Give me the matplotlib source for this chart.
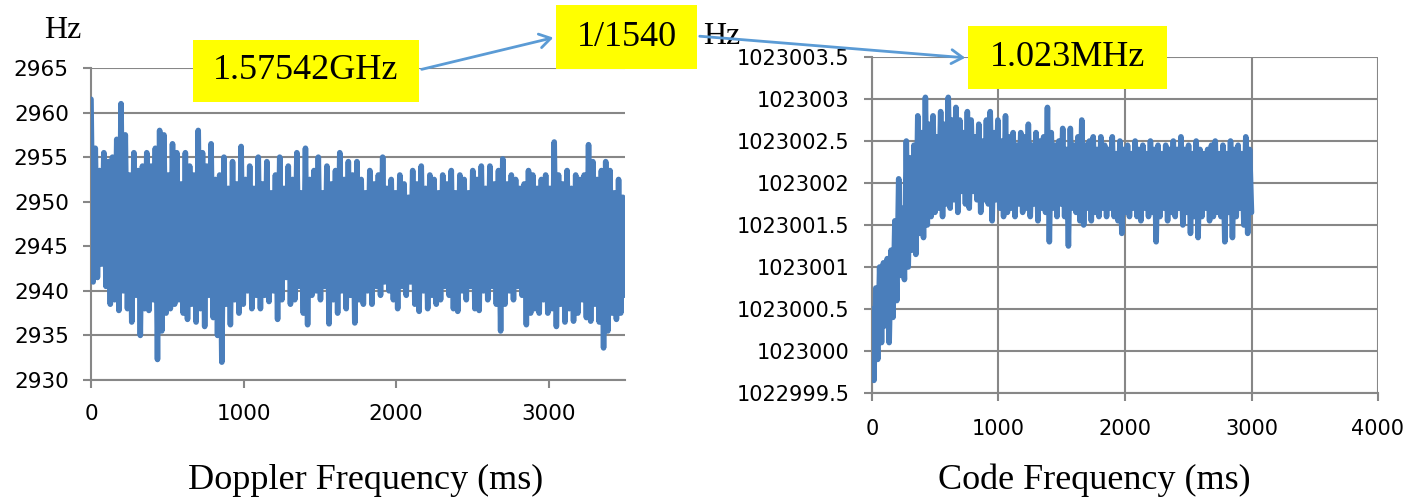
import numpy as np
import matplotlib
matplotlib.use("Agg")
import matplotlib.pyplot as plt
from matplotlib.patches import Rectangle, FancyArrowPatch

# Doppler frequency (Hz), 0..3500 ms
doppler_hz = [
    2961.5, 2941.0, 2956.0, 2941.5, 2953.5, 2943.0, 2955.5, 2940.5, 2954.5, 2938.5,
    2955.0, 2939.0, 2957.0, 2937.8, 2961.0, 2940.0, 2957.5, 2938.0, 2953.0, 2936.5,
    2955.5, 2939.5, 2953.5, 2935.0, 2954.0, 2938.0, 2955.5, 2937.8, 2954.0, 2939.0,
    2956.0, 2932.3, 2958.0, 2935.5, 2957.5, 2937.5, 2953.0, 2938.0, 2956.5, 2938.5,
    2955.5, 2939.0, 2952.0, 2937.5, 2955.5, 2936.8, 2954.0, 2938.5, 2953.0, 2936.5,
    2958.0, 2938.0, 2955.5, 2936.0, 2954.0, 2939.5, 2956.5, 2937.0, 2952.5, 2935.0,
    2953.0, 2932.0, 2955.0, 2938.5, 2951.5, 2936.2, 2954.5, 2939.0, 2952.0, 2937.5,
    2956.2, 2938.5, 2952.5, 2940.0, 2954.0, 2938.0, 2951.5, 2939.5, 2955.0, 2938.0,
    2952.0, 2939.5, 2954.5, 2938.8, 2951.0, 2940.0, 2953.0, 2936.8, 2955.0, 2939.0,
    2951.5, 2941.5, 2954.0, 2938.5, 2952.5, 2939.0, 2955.5, 2940.5, 2951.0, 2937.5,
    2956.0, 2936.2, 2952.5, 2939.5, 2953.5, 2940.0, 2955.0, 2939.0, 2951.0, 2940.5,
    2954.0, 2936.3, 2952.0, 2939.0, 2953.5, 2937.5, 2955.5, 2940.0, 2952.5, 2938.0,
    2954.5, 2939.5, 2953.0, 2936.4, 2954.5, 2939.0, 2952.5, 2938.5, 2951.0, 2940.0,
    2953.5, 2938.5, 2952.0, 2940.5, 2953.0, 2939.5, 2955.0, 2941.0, 2951.5, 2940.0,
    2952.5, 2939.0, 2951.0, 2938.0, 2953.0, 2940.5, 2952.0, 2939.5, 2950.5, 2941.0,
    2953.5, 2938.5, 2952.0, 2937.7, 2954.0, 2940.0, 2951.5, 2938.0, 2953.0, 2939.5,
    2952.5, 2938.5, 2951.0, 2939.0, 2953.0, 2940.5, 2952.0, 2939.5, 2953.5, 2938.0,
    2951.0, 2937.7, 2953.0, 2940.0, 2952.5, 2939.0, 2951.0, 2940.5, 2953.5, 2938.0,
    2952.5, 2937.8, 2954.0, 2940.0, 2951.5, 2939.0, 2954.0, 2940.5, 2952.0, 2938.5,
    2953.5, 2935.5, 2954.8, 2938.5, 2952.0, 2940.0, 2953.0, 2939.0, 2952.5, 2940.5,
    2951.5, 2939.5, 2952.0, 2936.2, 2953.5, 2937.5, 2953.0, 2938.0, 2951.5, 2937.5,
    2952.5, 2939.0, 2953.0, 2937.5, 2951.5, 2938.0, 2956.7, 2936.0, 2953.0, 2938.5,
    2952.0, 2936.5, 2953.5, 2938.0, 2951.5, 2936.6, 2953.0, 2937.5, 2952.5, 2939.0,
    2953.0, 2937.0, 2956.4, 2936.6, 2954.5, 2938.5, 2952.5, 2936.5, 2953.5, 2933.6,
    2954.5, 2935.5, 2953.5, 2937.5, 2951.0, 2936.8, 2952.5, 2937.5, 2950.5, 2939.5,
]

# Code frequency (Hz), 0..3000 ms
code_hz = [
    1023000.5, 1022999.65, 1023000.75, 1022999.9, 1023001.0, 1023000.1, 1023001.05, 1023000.3, 1023001.1, 1023000.1,
    1023001.2, 1023000.4, 1023001.55, 1023000.6, 1023002.05, 1023000.9, 1023001.7, 1023000.85, 1023002.5, 1023001.0,
    1023002.3, 1023001.2, 1023002.45, 1023001.15, 1023002.8, 1023001.4, 1023002.6, 1023001.35, 1023003.02, 1023001.5,
    1023002.7, 1023001.6, 1023002.8, 1023001.65, 1023002.55, 1023001.7, 1023002.85, 1023001.6, 1023002.7, 1023001.75,
    1023003.02, 1023001.7, 1023002.75, 1023001.8, 1023002.9, 1023001.65, 1023002.75, 1023001.9, 1023002.6, 1023001.75,
    1023002.85, 1023001.7, 1023002.75, 1023001.9, 1023002.55, 1023001.8, 1023002.7, 1023001.65, 1023002.5, 1023001.8,
    1023002.75, 1023001.75, 1023002.85, 1023001.55, 1023002.6, 1023001.8, 1023002.75, 1023001.7, 1023002.5, 1023001.6,
    1023002.8, 1023001.65, 1023002.55, 1023001.7, 1023002.6, 1023001.6, 1023002.45, 1023001.75, 1023002.6, 1023001.65,
    1023002.55, 1023001.7, 1023002.7, 1023001.6, 1023002.45, 1023001.75, 1023002.6, 1023001.55, 1023002.5, 1023001.7,
    1023002.55, 1023001.65, 1023002.9, 1023001.3, 1023002.6, 1023001.7, 1023002.45, 1023001.6, 1023002.5, 1023001.75,
    1023002.65, 1023001.6, 1023002.4, 1023001.25, 1023002.65, 1023001.7, 1023002.45, 1023001.65, 1023002.55, 1023001.55,
    1023002.75, 1023001.5, 1023002.45, 1023001.7, 1023002.5, 1023001.55, 1023002.55, 1023001.65, 1023002.4, 1023001.6,
    1023002.55, 1023001.7, 1023002.45, 1023001.6, 1023002.4, 1023001.7, 1023002.55, 1023001.6, 1023002.35, 1023001.55,
    1023002.5, 1023001.4, 1023002.4, 1023001.65, 1023002.45, 1023001.6, 1023002.35, 1023001.7, 1023002.5, 1023001.6,
    1023002.4, 1023001.55, 1023002.45, 1023001.7, 1023002.35, 1023001.6, 1023002.5, 1023001.65, 1023002.4, 1023001.3,
    1023002.45, 1023001.6, 1023002.35, 1023001.7, 1023002.45, 1023001.55, 1023002.4, 1023001.65, 1023002.5, 1023001.6,
    1023002.4, 1023001.7, 1023002.55, 1023001.5, 1023002.4, 1023001.65, 1023002.45, 1023001.4, 1023002.35, 1023001.6,
    1023002.5, 1023001.35, 1023002.4, 1023001.6, 1023002.35, 1023001.7, 1023002.4, 1023001.55, 1023002.45, 1023001.6,
    1023002.5, 1023001.65, 1023002.35, 1023001.6, 1023002.45, 1023001.3, 1023002.35, 1023001.65, 1023002.5, 1023001.35,
    1023002.4, 1023001.6, 1023002.45, 1023001.7, 1023002.35, 1023001.5, 1023002.55, 1023001.4, 1023002.4, 1023001.65,
]

doppler_ms = np.linspace(0, 3500, len(doppler_hz))
code_ms = np.linspace(0, 3000, len(code_hz))

left_yticks = [2930, 2935, 2940, 2945, 2950, 2955, 2960, 2965]
right_yticks = [1022999.5, 1023000, 1023000.5, 1023001, 1023001.5,
                1023002, 1023002.5, 1023003, 1023003.5]
right_ylabels = ["1022999.5", "1023000", "1023000.5", "1023001", "1023001.5",
                 "1023002", "1023002.5", "1023003", "1023003.5"]

LINE = "#4A7EBB"
GRID = "#878787"
ARROW = "#5B9BD5"
W, H = 1408, 500

fig = plt.figure(figsize=(W / 100, H / 100), dpi=100)


def px_rect(x0, y0, x1, y1):
    # pixel box (top-left origin) -> figure fraction [l, b, w, h]
    return [x0 / W, 1 - y1 / H, (x1 - x0) / W, (y1 - y0) / H]


def style_axes(ax, size):
    for s in ["top", "right"]:
        ax.spines[s].set_visible(False)
    for s in ["left", "bottom"]:
        ax.spines[s].set_color(GRID)
        ax.spines[s].set_linewidth(1.5)
    ax.tick_params(axis="both", colors=GRID, labelcolor="black", width=1.5,
                   length=6, direction="out", labelsize=size)
    ax.set_axisbelow(True)


# left panel
ax1 = fig.add_axes(px_rect(91, 68, 625, 380))
ax1.plot(doppler_ms, doppler_hz, color=LINE, lw=4, solid_joinstyle="round",
         solid_capstyle="round", zorder=3)
ax1.set_xlim(0, 3500)
ax1.set_ylim(2930, 2965)
ax1.set_xticks([0, 1000, 2000, 3000])
ax1.set_yticks(left_yticks)
ax1.grid(axis="y", color=GRID, lw=1.5)
style_axes(ax1, 15.5)
ax1.tick_params(axis="x", pad=11)
ax1.tick_params(axis="y", pad=10)

# right panel
ax2 = fig.add_axes(px_rect(872, 57, 1378, 393))
ax2.plot(code_ms, code_hz, color=LINE, lw=4, solid_joinstyle="round",
         solid_capstyle="round", zorder=3)
ax2.set_xlim(0, 4000)
ax2.set_ylim(1022999.5, 1023003.5)
ax2.set_xticks([0, 1000, 2000, 3000, 4000])
ax2.set_yticks(right_yticks)
ax2.set_yticklabels(right_ylabels)
ax2.grid(True, color=GRID, lw=1.5)
style_axes(ax2, 15)
ax2.tick_params(axis="x", pad=13)
ax2.tick_params(axis="y", pad=10)

serif = "Liberation Serif"


def ftxt(x, y, s, size, **kw):
    fig.text(x / W, 1 - y / H, s, fontsize=size, family=serif,
             ha="center", va="center", **kw)


ftxt(366, 480, "Doppler Frequency (ms)", 26)
ftxt(1094, 480, "Code Frequency (ms)", 26)
ftxt(63, 30, "Hz", 23)
ftxt(722, 36, "Hz", 23)

# yellow labels
boxes = [((193, 40, 419, 102), "1.57542GHz"),
         ((556, 5, 697, 69), "1/1540"),
         ((968, 26, 1167, 89), "1.023MHz")]
for (x0, y0, x1, y1), label in boxes:
    l, b, w, h = px_rect(x0, y0, x1, y1)
    fig.patches.append(Rectangle((l, b), w, h, transform=fig.transFigure,
                                 facecolor="#FFFF00", edgecolor="none", zorder=5))
    fig.text(l + w / 2, b + h / 2, label, fontsize=26, family=serif,
             ha="center", va="center", zorder=6)

for (xa, ya), (xb, yb) in [((419, 70), (556, 37)), ((697, 36), (968, 58))]:
    fig.patches.append(FancyArrowPatch((xa / W, 1 - ya / H), (xb / W, 1 - yb / H),
                                       transform=fig.transFigure, arrowstyle="->,head_length=8,head_width=5",
                                       color=ARROW, lw=2, zorder=7))

fig.savefig("out.png", dpi=100)
